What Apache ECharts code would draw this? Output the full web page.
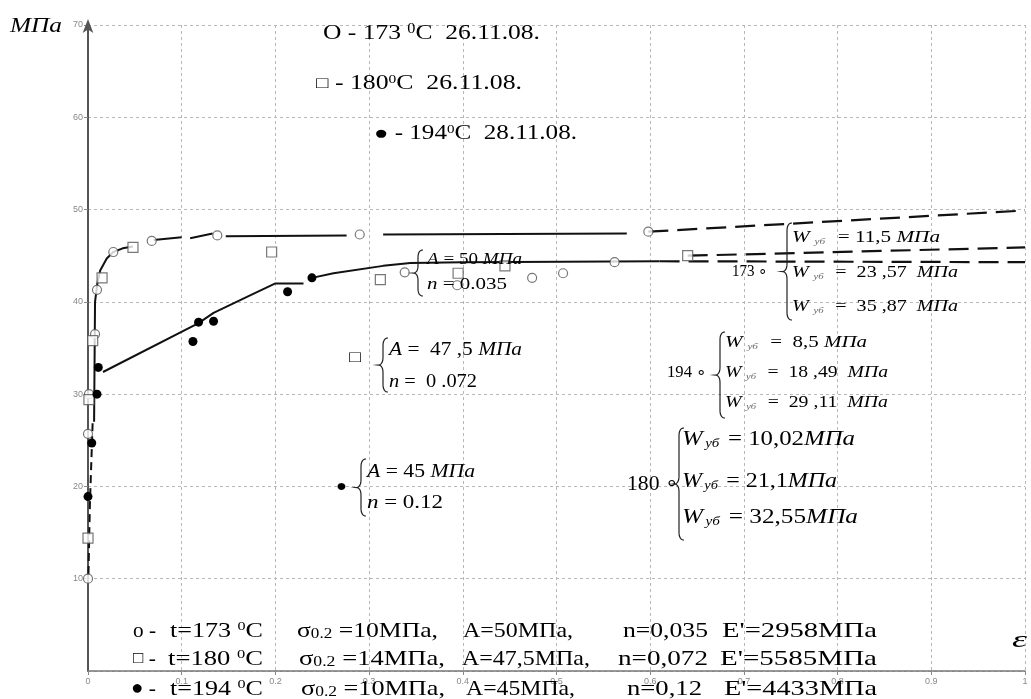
<!DOCTYPE html>
<html><head><meta charset="utf-8">
<script src="https://cdn.jsdelivr.net/npm/echarts@6/dist/echarts.min.js"></script>
<style>html,body{margin:0;padding:0;background:#fff}#c{width:1031px;height:699px}</style>
</head><body><div id="c"></div>
<script>
// ---- axis ranges ----
const xMin = 0, xMax = 1, xStep = 0.1;
const yMin = 0, yMax = 70, yStep = 10;

// ---- measured points [ε, МПа] ----
const circles173 = [[0,10],[0,25.7],[0.001,30.0],[0.0075,36.5],[0.0096,41.3],[0.027,45.4],[0.068,46.6],[0.138,47.2],[0.29,47.3],[0.338,43.2],[0.394,41.8],[0.474,42.6],[0.507,43.1],[0.562,44.3],[0.598,47.6]];
const squares180 = [[0,14.4],[0.001,29.4],[0.005,35.8],[0.015,42.6],[0.048,45.9],[0.196,45.4],[0.312,42.4],[0.395,43.1],[0.445,43.9],[0.64,45.0]];
const dots194 = [[0,18.9],[0.004,24.7],[0.0096,30.0],[0.011,32.9],[0.112,35.7],[0.118,37.8],[0.134,37.9],[0.213,41.1],[0.239,42.6]];

// ---- fitted curves ('-' = break) ----
const fit173Axis = [[0.0005,10.5],[0.002,18],[0.005,27]];
const fit173Solid = [[0.0065,27],[0.0075,40],[0.01,42.0],[0.013,43.4],[0.02,44.7],[0.027,45.4],[0.037,45.8],[0.048,46.0],[0.06,'-'],[0.07,46.7],[0.1,47.0],[0.105,'-'],[0.109,46.9],[0.133,47.4],[0.14,'-'],[0.147,47.1],[0.276,47.2],[0.29,'-'],[0.315,47.3],[0.575,47.4]];
const fit173Dash = [[0.598,47.6],[1.0,49.9]];
const fit194Solid = [[0.016,32.4],[0.118,37.7],[0.134,38.8],[0.173,40.7],[0.2,42.0],[0.23,42.0],[0.235,'-'],[0.239,42.6],[0.262,43.1],[0.315,43.9],[0.344,44.2],[0.4,44.3],[0.61,44.4]];
const fit194Dash = [[0.61,44.4],[1.0,44.3]];
const fit180Dash = [[0.64,45.0],[1.0,45.9]];

const SERIF = '"Liberation Serif","Times New Roman",serif';
const cv = document.createElement('canvas').getContext('2d');

function rs(size, o) {
  o = o || {};
  return Object.assign({fontFamily: SERIF, fontSize: size, fontStyle: 'normal', fontWeight: 'normal'}, o);
}
function makeRich(size) {
  return {
    sup: rs(Math.round(size*0.62), {verticalAlign:'top'}),
    sub: rs(Math.round(size*0.68), {verticalAlign:'bottom'}),
    i: rs(size, {fontStyle:'italic'}),
    sq: rs(Math.round(size*0.8)),
    dot: rs(Math.round(size*0.95)),
    ws: rs(Math.max(7, Math.round(size*0.5)), {fontStyle:'italic', verticalAlign:'bottom', fill:'#666', padding:[0,10,0,4]}),
    wb: rs(Math.round(size*0.62), {fontStyle:'italic', verticalAlign:'bottom', padding:[0,2,0,2]})
  };
}
function measure(text, size, italic, rich) {
  const re = /\{(\w+)\|([^}]*)\}|([^{]+)/g; let m, w = 0;
  while ((m = re.exec(text))) {
    if (m[3] !== undefined) { cv.font = `${italic?'italic ':''}${size}px ${SERIF}`; w += cv.measureText(m[3]).width; }
    else { const r = rich[m[1]]; cv.font = `${r.fontStyle} ${r.fontWeight} ${r.fontSize}px ${SERIF}`; w += cv.measureText(m[2]).width; if (r.padding) w += r.padding[1] + r.padding[3]; }
  }
  return w;
}
function T(x, y, text, size, w, o) {
  o = o || {};
  const rich = makeRich(size);
  const sx = w ? w / measure(text, size, o.italic, rich) : 1;
  return {type:'text', x, y, scaleX: sx, z: 100, silent:true,
    style:{text, font:`${o.italic?'italic ':''}${size}px ${SERIF}`, fill:o.fill||'#000', textAlign:'left', textVerticalAlign:'middle', rich}};
}
function brace(x, y1, y2) {
  const m = (y1+y2)/2, w = 5, r = Math.min(8, (y2-y1)/6), pts = [];
  const q = (p0, p1, p2) => { for (let t = 0; t <= 1.0001; t += 0.125) pts.push([(1-t)*(1-t)*p0[0]+2*(1-t)*t*p1[0]+t*t*p2[0], (1-t)*(1-t)*p0[1]+2*(1-t)*t*p1[1]+t*t*p2[1]]); };
  q([x+w,y1],[x,y1],[x,y1+r]); pts.push([x,m-r]); q([x,m-r],[x,m],[x-w,m]); q([x-w,m],[x,m],[x,m+r]); pts.push([x,y2-r]); q([x,y2-r],[x,y2],[x+w,y2]);
  return {type:'polyline', z:100, silent:true, shape:{points:pts}, style:{stroke:'#222', lineWidth:1.2, fill:null}};
}

const graphics = [
  // axis names
  T(10, 27, 'МПа', 20, 52, {italic:true}),
  T(1012, 641, 'ε', 24, 15, {italic:true}),
  // top legend
  T(323, 33, 'O - 173 {sup|0}C  26.11.08.', 22, 217),
  T(316, 84, '{sq|□} - 180{sup|0}C  26.11.08.', 20, 206),
  T(374, 134, '{dot|●} - 194{sup|0}C  28.11.08.', 20, 203),
  // A / n annotations
  brace(418, 250, 296),
  T(427, 260, '{i|A} = 50 {i|МПа}', 16, 95),
  T(427, 285, '{i|n} = 0.035', 16, 80),
  T(349, 358, '□', 16, 12),
  brace(383, 338, 392),
  T(389, 350, '{i|A} =  47 ,5 {i|МПа}', 19, 133),
  T(389, 382, '{i|n} =  0 .072', 19, 88),
  T(336, 487, '●', 16, 11),
  brace(361, 459, 516),
  T(367, 472, '{i|A} = 45 {i|МПа}', 18, 108),
  T(367, 503, '{i|n} = 0.12', 18, 76),
  // W blocks 173
  T(732, 272, '173 ∘', 17, 36),
  brace(787, 223, 320),
  T(792, 238, '{i|W}{ws|уб}= 11,5 {i|МПа}', 17, 148),
  T(792, 273, '{i|W}{ws|уб}=  23 ,57  {i|МПа}', 17, 166),
  T(792, 307, '{i|W}{ws|уб}=  35 ,87  {i|МПа}', 17, 166),
  // 194
  T(667, 373, '194 ∘', 17, 40),
  brace(720, 332, 418),
  T(725, 343, '{i|W}{ws|уб}=  8,5 {i|МПа}', 17, 142),
  T(725, 373, '{i|W}{ws|уб}=  18 ,49  {i|МПа}', 17, 163),
  T(725, 403, '{i|W}{ws|уб}=  29 ,11  {i|МПа}', 17, 163),
  // 180
  T(627, 485, '180 ∘', 20, 52),
  brace(679, 428, 540),
  T(682, 440, '{i|W}{wb|уб} = 10,02{i|МПа}', 20, 173),
  T(682, 482, '{i|W}{wb|уб} = 21,1{i|МПа}', 20, 155),
  T(682, 518, '{i|W}{wb|уб} = 32,55{i|МПа}', 20, 176),
  // bottom table
  T(133, 631, 'o -', 21, 23), T(170, 631, 't=173 {sup|0}C', 21, 93), T(297, 631, 'σ{sub|0.2} =10МПа,', 21, 141),
  T(463, 631, 'A=50МПа,', 21, 110), T(623, 631, 'n=0,035', 21, 85), T(722, 631, "E'=2958МПа", 21, 155),
  T(133, 659, '{sq|□} -', 21, 23), T(168, 659, 't=180 {sup|0}C', 21, 95), T(299, 659, 'σ{sub|0.2} =14МПа,', 21, 146),
  T(462, 659, 'A=47,5МПа,', 21, 128), T(618, 659, 'n=0,072', 21, 90), T(720, 659, "E'=5585МПа", 21, 157),
  T(131, 689, '{dot|●} -', 21, 25), T(170, 689, 't=194 {sup|0}C', 21, 93), T(301, 689, 'σ{sub|0.2} =10МПа,', 21, 144),
  T(466, 689, 'A=45МПа,', 21, 109), T(627, 689, 'n=0,12', 21, 75), T(724, 689, "E'=4433МПа", 21, 153)
];

const gridLine = {show:true, lineStyle:{type:[3,3], color:'#b8b8b8', width:1}};
const lineBase = {type:'line', symbol:'none', showSymbol:false, silent:true, connectNulls:false, animation:false};
const chart = echarts.init(document.getElementById('c'), null, {renderer:'canvas'});
chart.setOption({
  animation:false,
  backgroundColor:'#fff',
  grid:{left:88, right:6, top:25, bottom:28, containLabel:false, outerBoundsMode:'none'},
  xAxis:{type:'value', min:xMin, max:xMax, interval:xStep,
    axisLine:{show:true, onZero:false, lineStyle:{color:'#777', width:1.5}},
    axisTick:{show:true, length:4, lineStyle:{color:'#888'}},
    axisLabel:{fontSize:9, color:'#888', margin:6, fontFamily:'Liberation Sans',
      formatter:v => (v===0?'0':(Math.abs(v-1)<1e-9?'1':v.toFixed(1)))},
    splitLine:gridLine},
  yAxis:{type:'value', min:yMin, max:yMax, interval:yStep,
    axisLine:{show:true, onZero:false, symbol:['none','arrow'], symbolSize:[8,14], symbolOffset:[0,6], lineStyle:{color:'#555', width:2}},
    axisTick:{show:true, length:4, lineStyle:{color:'#888'}},
    axisLabel:{fontSize:9, color:'#888', margin:5, showMinLabel:false, fontFamily:'Liberation Sans'},
    splitLine:gridLine},
  series:[
    Object.assign({}, lineBase, {data:fit173Axis, lineStyle:{color:'#111', width:2, type:[8,5]}}),
    Object.assign({}, lineBase, {data:fit173Solid, lineStyle:{color:'#111', width:2}}),
    Object.assign({}, lineBase, {data:fit173Dash, lineStyle:{color:'#111', width:2.2, type:[20,9]}}),
    Object.assign({}, lineBase, {data:fit194Solid, lineStyle:{color:'#111', width:2}}),
    Object.assign({}, lineBase, {data:fit194Dash, lineStyle:{color:'#111', width:2.2, type:[20,9]}}),
    Object.assign({}, lineBase, {data:fit180Dash, lineStyle:{color:'#111', width:2.2, type:[20,9]}}),
    {type:'scatter', name:'173 °C', data:circles173, symbol:'circle', symbolSize:9, z:5,
      itemStyle:{color:'#fff', borderColor:'#555', borderWidth:1.2}},
    {type:'scatter', name:'180 °C', data:squares180, symbol:'rect', symbolSize:10, z:5,
      itemStyle:{color:'#fff', borderColor:'#555', borderWidth:1.2}},
    {type:'scatter', name:'194 °C', data:dots194, symbol:'circle', symbolSize:9, z:5,
      itemStyle:{color:'#000', opacity:1}}
  ],
  graphic:{elements:graphics}
});
</script></body></html>
